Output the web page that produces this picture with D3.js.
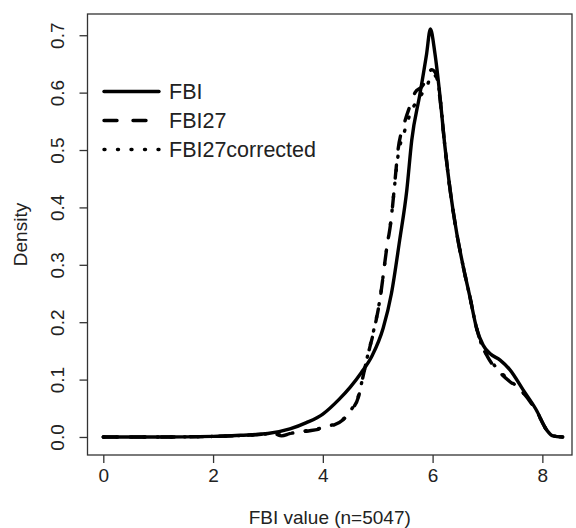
<!DOCTYPE html>
<html>
<head>
<meta charset="utf-8">
<script src="https://cdn.jsdelivr.net/npm/d3@7"></script>
<style>
    body { margin: 0; background: #fff; }
    text { font-family: "Liberation Sans", Arial, sans-serif; fill: #222; }
</style>
</head>
<body>
<div id="wide"></div>
<script>

// density curves
var fbiX = [0, 1, 2, 2.5, 3.0, 3.4, 3.7, 4.0, 4.3, 4.5, 4.7, 4.9, 5.1, 5.25, 5.4, 5.53, 5.62, 5.77, 5.89, 5.96,
    6.04, 6.13, 6.22, 6.32, 6.44, 6.56, 6.68, 6.8, 6.92, 7.05, 7.23, 7.41, 7.65, 7.89, 8.08, 8.19, 8.37];
var fbiY = [0, 0, 0.001, 0.003, 0.006, 0.014, 0.025, 0.040, 0.066, 0.087, 0.112, 0.142, 0.19, 0.25, 0.343, 0.43, 0.517, 0.598, 0.667, 0.711,
    0.67, 0.598, 0.51, 0.43, 0.355, 0.296, 0.244, 0.19, 0.16, 0.145, 0.134, 0.117, 0.082, 0.047, 0.012, 0.002, 0];

var fbi27X = [0, 1, 2, 2.8, 3.1, 3.25, 3.4, 3.7, 4.07, 4.37, 4.52, 4.65, 4.72, 4.8, 4.92, 5.04, 5.16, 5.25, 5.31, 5.37, 5.48, 5.6, 5.68, 5.8, 5.9, 5.98,
    6.05, 6.12, 6.22, 6.32, 6.44, 6.56, 6.68, 6.8, 6.92, 7.0, 7.1, 7.25, 7.4, 7.6, 7.89, 8.08, 8.2, 8.37];
var fbi27Y = [0, 0, 0.001, 0.004, 0.006, 0.002, 0.006, 0.010, 0.017, 0.03, 0.047, 0.07, 0.1, 0.135, 0.181, 0.239, 0.326, 0.383, 0.442, 0.5, 0.545, 0.58, 0.6, 0.61, 0.625, 0.64,
    0.635, 0.6, 0.51, 0.43, 0.355, 0.296, 0.244, 0.19, 0.155, 0.14, 0.125, 0.11, 0.097, 0.082, 0.045, 0.012, 0.002, 0];

var fbi27cX = [0, 1, 2, 2.8, 3.1, 3.25, 3.4, 3.7, 4.07, 4.37, 4.52, 4.65, 4.72, 4.8, 4.92, 5.04, 5.16, 5.25, 5.31, 5.37, 5.48, 5.6, 5.71, 5.89, 6.0,
    6.08, 6.15, 6.22, 6.32, 6.44, 6.56, 6.68, 6.8, 6.92, 7.0, 7.1, 7.25, 7.4, 7.6, 7.89, 8.08, 8.2, 8.37];
var fbi27cY = [0, 0, 0.001, 0.004, 0.006, 0.003, 0.006, 0.011, 0.018, 0.031, 0.048, 0.072, 0.1, 0.135, 0.183, 0.24, 0.326, 0.385, 0.44, 0.49, 0.53, 0.565, 0.585, 0.61, 0.632,
    0.625, 0.58, 0.51, 0.43, 0.355, 0.296, 0.244, 0.19, 0.155, 0.142, 0.128, 0.112, 0.099, 0.082, 0.046, 0.012, 0.002, 0];

var xTicks = [0, 2, 4, 6, 8];
var yTicks = [0, 0.1, 0.2, 0.3, 0.4, 0.5, 0.6, 0.7];
var yTickLabels = ["0.0", "0.1", "0.2", "0.3", "0.4", "0.5", "0.6", "0.7"];
var seriesNames = ["FBI", "FBI27", "FBI27corrected"];
var xTitle = "FBI value (n=5047)";
var yTitle = "Density";

var params = {
    width: 576,
    height: 528,
    box: { left: 87.5, right: 572, top: 14, bottom: 455 }
};

var svg = d3.select("#wide")
    .append("svg")
    .attr("id", "density")
    .attr("width", params.width)
    .attr("height", params.height);

const x = d3.scaleLinear()
    .domain([-0.288, 8.54])
    .range([params.box.left, params.box.right]);

const y = d3.scaleLinear()
    .domain([-0.0314, 0.737])
    .range([params.box.bottom, params.box.top]);

// box round the plot
svg.append("rect")
    .attr("x", params.box.left)
    .attr("y", params.box.top)
    .attr("width", params.box.right - params.box.left)
    .attr("height", params.box.bottom - params.box.top)
    .attr("fill", "none")
    .attr("stroke", "#333")
    .attr("stroke-width", 1.3);

// x axis
var xAxis = svg.append("g")
    .attr("transform", "translate(0," + params.box.bottom + ")")
    .call(d3.axisBottom(x).tickValues(xTicks).tickSize(8).tickPadding(6).tickFormat(d3.format("d")));
xAxis.select(".domain").remove();
xAxis.selectAll("line").attr("stroke", "#333").attr("stroke-width", 1.3);
xAxis.selectAll("text").attr("font-size", 19).attr("font-family", null).attr("fill", "#222");

// y axis, labels turned like R does
var yAxis = svg.append("g")
    .attr("transform", "translate(" + params.box.left + ",0)")
    .call(d3.axisLeft(y).tickValues(yTicks).tickSize(8).tickFormat((d, i) => yTickLabels[i]));
yAxis.select(".domain").remove();
yAxis.selectAll("line").attr("stroke", "#333").attr("stroke-width", 1.3);
yAxis.selectAll("text")
    .attr("font-size", 19)
    .attr("font-family", null)
    .attr("fill", "#222")
    .attr("x", null)
    .attr("dy", null)
    .attr("text-anchor", "middle")
    .attr("transform", "translate(-24,0) rotate(-90)");

svg.append("text")
    .attr("x", (params.box.left + params.box.right) / 2)
    .attr("y", 524)
    .attr("text-anchor", "middle")
    .attr("font-size", 19)
    .text(xTitle);

svg.append("text")
    .attr("transform", "translate(27," + (params.box.top + params.box.bottom) / 2 + ") rotate(-90)")
    .attr("text-anchor", "middle")
    .attr("font-size", 19)
    .text(yTitle);

// the three curves
var line = d3.line()
    .x(d => x(d[0]))
    .y(d => y(d[1]))
    .curve(d3.curveMonotoneX);

var series = [
    { name: seriesNames[0], xs: fbiX, ys: fbiY, dash: null },
    { name: seriesNames[1], xs: fbi27X, ys: fbi27Y, dash: "13,16" },
    { name: seriesNames[2], xs: fbi27cX, ys: fbi27cY, dash: "1,12.5" }
];

svg.append("g")
    .attr("class", "curves")
    .selectAll("path")
    .data(series)
    .enter().append("path")
    .attr("d", s => line(s.xs.map((v, i) => [v, s.ys[i]])))
    .attr("fill", "none")
    .attr("stroke", "#000")
    .attr("stroke-width", 3.4)
    .attr("stroke-linecap", "round")
    .attr("stroke-linejoin", "round")
    .attr("stroke-dasharray", s => s.dash);

// legend
var legend = svg.append("g")
    .attr("class", "legend")
    .selectAll("g")
    .data(series)
    .enter().append("g")
    .attr("transform", (s, i) => "translate(0," + (91.5 + i * 29) + ")");

legend.append("line")
    .attr("x1", 104)
    .attr("x2", 159)
    .attr("stroke", "#000")
    .attr("stroke-width", 3.4)
    .attr("stroke-linecap", "round")
    .attr("stroke-dasharray", s => s.dash);

legend.append("text")
    .attr("x", 169)
    .attr("y", 7.5)
    .attr("font-size", 21.5)
    .text(s => s.name);

</script>
</body>
</html>
